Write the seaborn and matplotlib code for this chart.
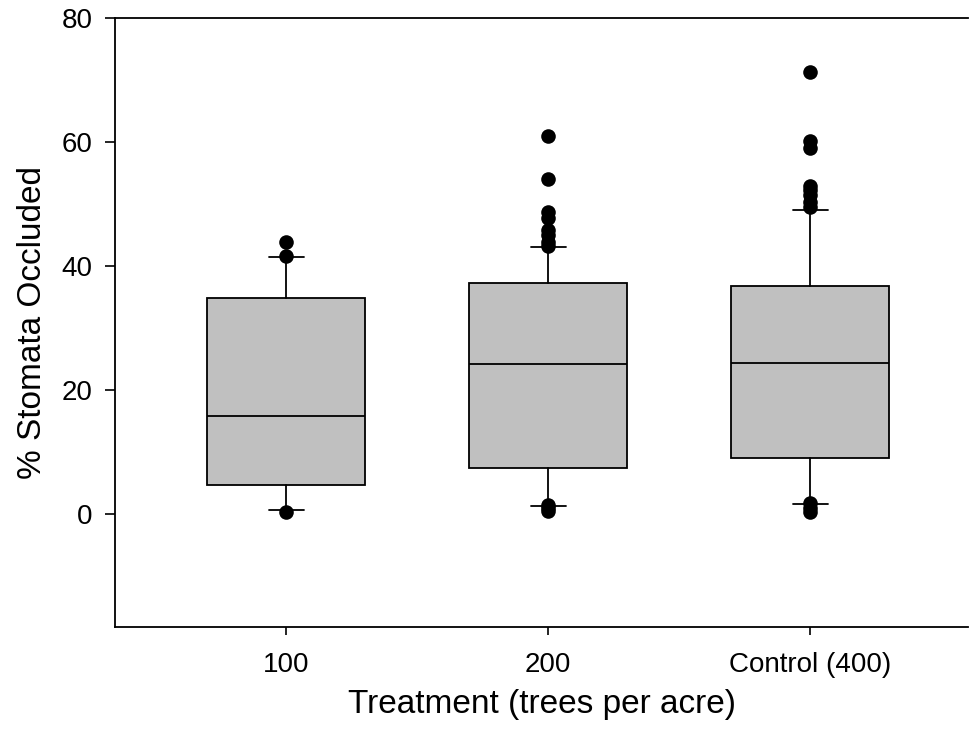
import matplotlib
matplotlib.use("Agg")
import matplotlib.pyplot as plt
import seaborn as sns
import pandas as pd

# ---- data ----
categories = ["100", "200", "Control (400)"]
q1 = [4.7, 7.5, 9.0]
medians = [15.8, 24.2, 24.4]
q3 = [34.8, 37.2, 36.8]
whisker_low = [0.6, 1.3, 1.6]
whisker_high = [41.5, 43.1, 49.0]
outliers_100 = [43.8, 41.7, 0.3]
outliers_200 = [61.0, 54.1, 48.7, 47.7, 45.8, 45.0, 43.8, 43.3, 1.5, 1.0, 0.5]
outliers_400 = [71.3, 60.2, 59.0, 52.9, 52.3, 51.5, 50.4, 49.5, 1.8, 1.0, 0.3]
y_ticks = [0, 20, 40, 60, 80]

sns.set_theme(style="ticks")
plt.rcParams["font.family"] = ["Liberation Sans", "DejaVu Sans"]
plt.rcParams["text.color"] = "black"
plt.rcParams["axes.labelcolor"] = "black"
plt.rcParams["xtick.color"] = "black"
plt.rcParams["ytick.color"] = "black"

fig = plt.figure(figsize=(9.7, 7.4), dpi=100)
ax = fig.add_axes([0.1186, 0.1527, 0.8794, 0.8230])

stats = []
for i, cat in enumerate(categories):
    stats.append(dict(label=cat, q1=q1[i], med=medians[i], q3=q3[i],
                      whislo=whisker_low[i], whishi=whisker_high[i], fliers=[]))

ax.bxp(stats, positions=[0, 1, 2], widths=0.603, capwidths=[0.134] * 3,
       showfliers=False, patch_artist=True, manage_ticks=False,
       boxprops=dict(facecolor="#C0C0C0", edgecolor="black", linewidth=1.3),
       medianprops=dict(color="black", linewidth=1.3),
       whiskerprops=dict(color="black", linewidth=1.3),
       capprops=dict(color="black", linewidth=1.3))

out_df = pd.DataFrame({
    "group": [categories[0]] * len(outliers_100) + [categories[1]] * len(outliers_200)
             + [categories[2]] * len(outliers_400),
    "value": outliers_100 + outliers_200 + outliers_400,
})
sns.stripplot(data=out_df, x="group", y="value", order=categories, jitter=False,
              color="black", size=10.5, linewidth=0, ax=ax, zorder=5)

ax.set_xlim(-0.653, 2.603)
ax.set_ylim(-18.2, 80)
ax.set_yticks(y_ticks)
ax.set_xticks([0, 1, 2])
ax.set_xticklabels(categories)

ax.set_xlabel("Treatment (trees per acre)", fontsize=24, labelpad=8, color="black")
ax.set_ylabel("% Stomata Occluded", fontsize=24, labelpad=10, color="black")

ax.tick_params(axis="y", labelsize=20, length=7, width=1.2, pad=9, direction="out",
               color="black", labelcolor="black")
ax.tick_params(axis="x", labelsize=20, length=6, width=1.2, pad=12, direction="out",
               color="black", labelcolor="black")

for side in ["left", "bottom", "top"]:
    ax.spines[side].set_visible(True)
    ax.spines[side].set_linewidth(1.3)
    ax.spines[side].set_color("black")
ax.spines["right"].set_visible(False)
ax.set_facecolor("white")
fig.patch.set_facecolor("white")

fig.savefig("out.png", dpi=100, facecolor="white")
